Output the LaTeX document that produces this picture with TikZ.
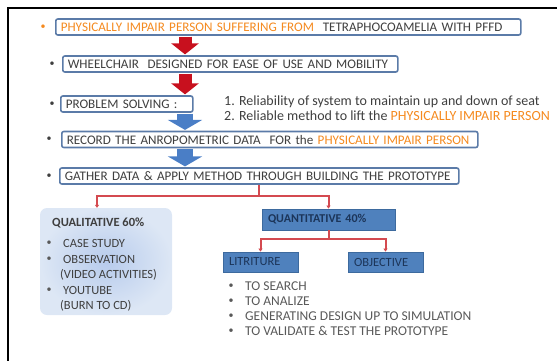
\documentclass[tikz,border=0pt]{standalone}
\usepackage{fontspec}
\setmainfont{Carlito}
\usetikzlibrary{calc}
\usetikzlibrary{positioning}
\usetikzlibrary{arrows.meta}
\definecolor{frame}{HTML}{5B7BA8}
\definecolor{orng}{HTML}{F58A1F}
\definecolor{txt}{HTML}{3F3F3F}
\definecolor{lst}{HTML}{595959}
\definecolor{redarr}{HTML}{C8101E}
\definecolor{bluearr}{HTML}{4A7EC6}
\definecolor{redln}{HTML}{D44A50}
\definecolor{qfill}{HTML}{4F81BD}
\definecolor{qline}{HTML}{3D6A9E}
\definecolor{qtext}{HTML}{1C3559}
\definecolor{qin}{HTML}{B7CBEC}
\definecolor{qout}{HTML}{DDE7F5}

\begin{document}
\begin{tikzpicture}[x=1pt, y=-1pt,
	box/.style = {rectangle, rounded corners=2pt, draw=frame, line width=1.6pt, fill=white, minimum height=16, inner xsep=5, inner ysep=0, anchor=west, align=left, text=txt, font=\fontsize{13.1}{14}\selectfont},
	qbox/.style = {rectangle, draw=qline, line width=0.8pt, fill=qfill, minimum height=21, inner xsep=6, inner ysep=0, align=left, text=qtext, font=\fontsize{12.5}{13}\selectfont},
	lbl/.style = {anchor=west, inner sep=0, font=\fontsize{12.5}{13}\selectfont, text=txt},
	dot/.style = {anchor=center, inner sep=0, font=\fontsize{10}{10}\selectfont, text=#1},
	redarrow/.style = {-{Triangle[length=11pt, width=27pt]}, line width=13pt, draw=redarr, shorten <=0.8pt, shorten >=0.8pt},
	bluearrow/.style = {-{Triangle[length=10pt, width=34pt]}, line width=16pt, draw=bluearr, shorten <=0.8pt, shorten >=0.8pt},
	r/.style = {draw=redln, line width=2pt, -{Triangle[length=3pt, width=4pt]}}
	]
	\useasboundingbox (0,0) rectangle (557,360);
	\draw[black, line width=2.2pt] (8,362) -- (8,8) -- (560,8);
	
	%Nodes
	\node[box, text width=455]	(b1)	at	(55, 27)	{\mbox{\textcolor{orng}{PHYSICALLY IMPAIR PERSON SUFFERING FROM}\ \ TETRAPHOCOAMELIA WITH PFFD}};
	\node[box, text width=325]	(b2)	at	(62, 64)	{\mbox{WHEELCHAIR\ \ DESIGNED FOR EASE OF USE AND MOBILITY}};
	\node[box, text width=122]	(b3)	at	(60, 104)	{\mbox{PROBLEM SOLVING :}};
	\node[box, text width=406]	(b4)	at	(61, 139.5)	{\mbox{RECORD THE ANROPOMETRIC DATA\ \ FOR the \textcolor{orng}{PHYSICALLY IMPAIR PERSON}}};
	\node[box, text width=389]	(b5)	at	(59, 176)	{\mbox{GATHER DATA \& APPLY METHOD THROUGH BUILDING THE PROTOTYPE}};
	
	\node[dot=orng]	(d1)	at	(43, 27)	{•};
	\node[dot=txt]	(d2)	at	(52, 64)	{•};
	\node[dot=txt]	(d3)	at	(52, 104)	{•};
	\node[dot=txt]	(d4)	at	(49, 139.5)	{•};
	\node[dot=txt]	(d5)	at	(49, 176)	{•};
	
	\node[lbl, font=\fontsize{14}{14}\selectfont]	(p1)	at	(224, 102)	{1. Reliability of system to maintain up and down of seat};
	\node[lbl, font=\fontsize{14}{14}\selectfont]	(p2)	at	(224, 115.5)	{2. Reliable method to lift the \textcolor{orng}{PHYSICALLY IMPAIR PERSON}};
	
	\node[rectangle, rounded corners=7pt, minimum width=132, minimum height=107, inner color=qin, outer color=qout]	(ql)	at	(106, 261.5)	{};
	\node[lbl, font=\fontsize{12.5}{13}\selectfont\bfseries]	(qt)	at	(52, 223)	{QUALITATIVE 60\%};
	\node[dot=lst]	(qd1)	at	(49, 243)	{•};
	\node[lbl]	(qi1)	at	(63, 243)	{CASE STUDY};
	\node[dot=lst]	(qd2)	at	(49, 259)	{•};
	\node[lbl]	(qi2)	at	(63, 259)	{OBSERVATION};
	\node[lbl]	(qi3)	at	(60, 275)	{(VIDEO ACTIVITIES)};
	\node[dot=lst]	(qd4)	at	(49, 290)	{•};
	\node[lbl]	(qi4)	at	(63, 290)	{YOUTUBE};
	\node[lbl]	(qi5)	at	(60, 306)	{(BURN TO CD)};
	
	\node[qbox, minimum width=133, text width=121, font=\fontsize{12}{13}\selectfont\bfseries]	(qn)	at	(328.5, 219.5)	{QUANTITATIVE 40\%};
	\node[qbox, minimum width=75, minimum height=20, text width=63]	(lit)	at	(260.5, 262)	{LITRITURE};
	\node[qbox, minimum width=75, minimum height=20, text width=63]	(obj)	at	(385.5, 262)	{OBJECTIVE};
	
	\node[dot=lst]	(ld1)	at	(231, 286)	{•};
	\node[lbl, text=lst, font=\fontsize{13.5}{14}\selectfont]	(li1)	at	(245, 286)	{TO SEARCH};
	\node[dot=lst]	(ld2)	at	(231, 301)	{•};
	\node[lbl, text=lst, font=\fontsize{13.5}{14}\selectfont]	(li2)	at	(245, 301)	{TO ANALIZE};
	\node[dot=lst]	(ld3)	at	(231, 316)	{•};
	\node[lbl, text=lst, font=\fontsize{13.5}{14}\selectfont]	(li3)	at	(245, 316)	{GENERATING DESIGN UP TO SIMULATION};
	\node[dot=lst]	(ld4)	at	(231, 331)	{•};
	\node[lbl, text=lst, font=\fontsize{13.5}{14}\selectfont]	(li4)	at	(245, 331)	{TO VALIDATE \& TEST THE PROTOTYPE};
	
	%Lines
	\coordinate (ax) at (185, 0);
	\draw[redarrow]		(b1.south -| ax)	--	(b2.north -| ax);
	\draw[redarrow]		(b2.south -| ax)	--	(b3.north -| ax);
	\draw[bluearrow]	(b3.south -| ax)	--	(b4.north -| ax);
	\draw[bluearrow]	(b4.south -| ax)	--	(b5.north -| ax);
	
	\coordinate (j1) at ($(b5.south)+(0,11)$);
	\draw[r]	(b5.south)	--	(j1)	-|	([xshift=-9]ql.north);
	\draw[r]	(j1)		-|	(qn.north);
	\coordinate (j2) at ($(qn.south)+(0,9)$);
	\draw[r]	(qn.south)	--	(j2)	-|	(lit.north);
	\draw[r]	(j2)		-|	(obj.north);
	
\end{tikzpicture}
\end{document}
